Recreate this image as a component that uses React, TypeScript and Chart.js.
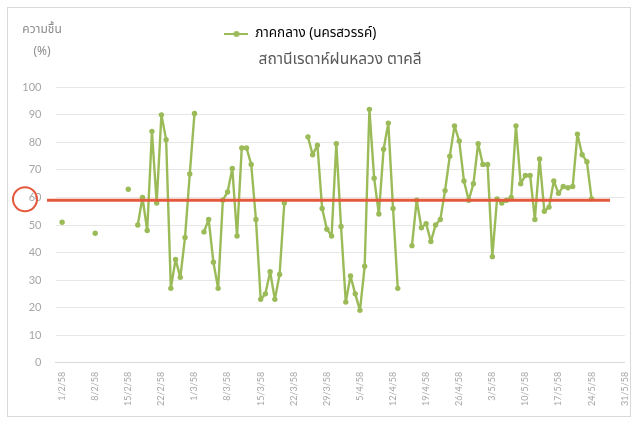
import { useEffect, useRef } from "react";
import { Chart, registerables } from "chart.js";

Chart.register(...registerables);

// ---- data ----
const seriesName = "ภาคกลาง (นครสวรรค์)";
const subtitleText = "สถานีเรดาห์ฝนหลวง ตาคลี";
const yAxisTitle = ["ความชื้น", "(%)"];
const tickLabels = [
  "1/2/58", "8/2/58", "15/2/58", "22/2/58", "1/3/58", "8/3/58", "15/3/58",
  "22/3/58", "29/3/58", "5/4/58", "12/4/58", "19/4/58", "26/4/58", "3/5/58",
  "10/5/58", "17/5/58", "24/5/58", "31/5/58",
];
const tickStepDays = 7;
// daily relative humidity (%) starting 1/2/58, null = no observation
const humidity: (number | null)[] = [
  51, null, null, null, null, null, null, 47, null, null, null, null, null, null,
  63, null, 50, 60, 48, 84, 58, 90, 81, 27, 37.5, 31, 45.5, 68.5, 90.5, null,
  47.5, 52, 36.5, 27, 59, 62, 70.5, 46, 78, 78, 72, 52, 23, 25, 33, 23, 32, 58,
  null, null, null, null, 82, 75.5, 79, 56, 48.5, 46, 79.5, 49.5, 22, 31.5, 25,
  19, 35, 92, 67, 54, 77.5, 87, 56, 27, null, null, 42.5, 59, 49, 50.5, 44, 50,
  52, 62.5, 75, 86, 80.5, 66, 59, 65, 79.5, 72, 72, 38.5, 59.5, 58, 59, 60, 86,
  65, 68, 68, 52, 74, 55, 56.5, 66, 61.5, 64, 63.5, 64, 83, 75.5, 73, 59.5,
];
const thresholdValue = 59;

const GREEN = "#9BBB59";
const RED = "#E4583C";
const THAI_FONT = "'Noto Sans Thai', 'Leelawadee UI', Tahoma, 'DejaVu Sans', sans-serif";
const NUM_FONT = "Lato, 'Open Sans', sans-serif";

function makeMarker(): HTMLCanvasElement {
  const c = document.createElement("canvas");
  c.width = 24;
  c.height = 8;
  const ctx = c.getContext("2d")!;
  ctx.strokeStyle = GREEN;
  ctx.lineWidth = 2;
  ctx.beginPath();
  ctx.moveTo(0, 4);
  ctx.lineTo(24, 4);
  ctx.stroke();
  ctx.fillStyle = GREEN;
  ctx.beginPath();
  ctx.arc(12, 4, 3, 0, Math.PI * 2);
  ctx.fill();
  return c;
}

const decorations = {
  id: "decorations",
  afterLayout(chart: any) {
    const lg = chart.legend;
    if (lg) {
      lg.left -= 16;
      lg.right -= 16;
    }
  },
  afterDatasetsDraw(chart: any) {
    const { ctx, chartArea, scales } = chart;
    const y = scales.y.getPixelForValue(thresholdValue);
    ctx.save();
    ctx.strokeStyle = RED;
    ctx.lineWidth = 3;
    ctx.beginPath();
    ctx.moveTo(chartArea.left - 8.5, y);
    ctx.lineTo(chartArea.right - 14.7, y);
    ctx.stroke();
    // circle highlighting the 60 tick
    ctx.lineWidth = 2;
    ctx.beginPath();
    ctx.arc(chartArea.left - 30.5, y - 1, 12, 0, Math.PI * 2);
    ctx.stroke();
    ctx.restore();
  },
  afterDraw(chart: any) {
    const { ctx, chartArea } = chart;
    ctx.save();
    ctx.fillStyle = "#8C8C8C";
    ctx.font = `12px ${THAI_FONT}`;
    ctx.textAlign = "center";
    ctx.textBaseline = "middle";
    const cx = chartArea.left - 13.5;
    ctx.fillText(yAxisTitle[0], cx, 23);
    ctx.fillText(yAxisTitle[1], cx, 45);
    ctx.restore();
  },
};

export default function App() {
  const ref = useRef<HTMLCanvasElement>(null);

  useEffect(() => {
    if (!ref.current) return;
    const marker = makeMarker();
    const chart = new Chart(ref.current, {
      type: "line",
      data: {
        datasets: [
          {
            label: seriesName,
            data: humidity.map((v, i) => ({ x: i, y: v })) as any,
            borderColor: GREEN,
            backgroundColor: GREEN,
            pointBackgroundColor: GREEN,
            pointBorderColor: GREEN,
            pointRadius: 2.7,
            pointBorderWidth: 0,
            borderWidth: 2.4,
            borderJoinStyle: "round",
            spanGaps: false,
            tension: 0,
          },
        ],
      },
      options: {
        responsive: false,
        animation: false,
        layout: { padding: { top: 11.25, left: 0, right: 5.3, bottom: 0 } },
        plugins: {
          legend: {
            position: "top",
            labels: {
              usePointStyle: true,
              pointStyleWidth: 24,
              padding: 8,
              color: "#595959",
              font: { size: 13.5, family: THAI_FONT },
              generateLabels: () => [
                {
                  text: seriesName,
                  pointStyle: marker as any,
                  fillStyle: GREEN,
                  strokeStyle: GREEN,
                  lineWidth: 0,
                  hidden: false,
                  datasetIndex: 0,
                } as any,
              ],
            },
          },
          title: {
            display: true,
            text: subtitleText,
            weight: 500,
            fullSize: false,
            color: "#595959",
            font: { size: 15.5, weight: "normal", family: THAI_FONT },
            padding: { top: 0.75, bottom: 17.2 },
          } as any,
          tooltip: { enabled: false },
        },
        scales: {
          x: {
            type: "linear",
            min: -1.4,
            max: 119,
            afterBuildTicks: (s: any) => {
              s.ticks = tickLabels.map((_, i) => ({ value: i * tickStepDays }));
            },
            afterFit: (s: any) => {
              s.height = 53.3;
              s.paddingLeft = 0;
              s.paddingRight = 0;
            },
            ticks: {
              autoSkip: false,
              maxRotation: 90,
              minRotation: 90,
              padding: 9,
              color: "#A6A6A6",
              font: { size: 9, family: NUM_FONT },
              callback: (_v: any, i: number) => tickLabels[i],
            },
            grid: { display: false, drawTicks: false },
            border: { display: true, color: "#D9D9D9", width: 1 },
          },
          y: {
            min: 0,
            max: 100,
            afterFit: (s: any) => {
              s.width = 47.5;
            },
            ticks: {
              stepSize: 10,
              padding: 14,
              color: "#A6A6A6",
              font: { size: 11, family: NUM_FONT },
            },
            grid: { color: "#E6E6E6", drawTicks: false },
            border: { display: false },
          },
        },
      },
      plugins: [decorations],
    });
    return () => chart.destroy();
  }, []);

  return (
    <div
      style={{
        position: "absolute",
        left: 7,
        top: 7,
        width: 624,
        height: 410,
        border: "1px solid #D9D9D9",
        boxSizing: "border-box",
        background: "#fff",
      }}
    >
      <canvas ref={ref} width={622} height={408} style={{ display: "block" }} />
    </div>
  );
}
